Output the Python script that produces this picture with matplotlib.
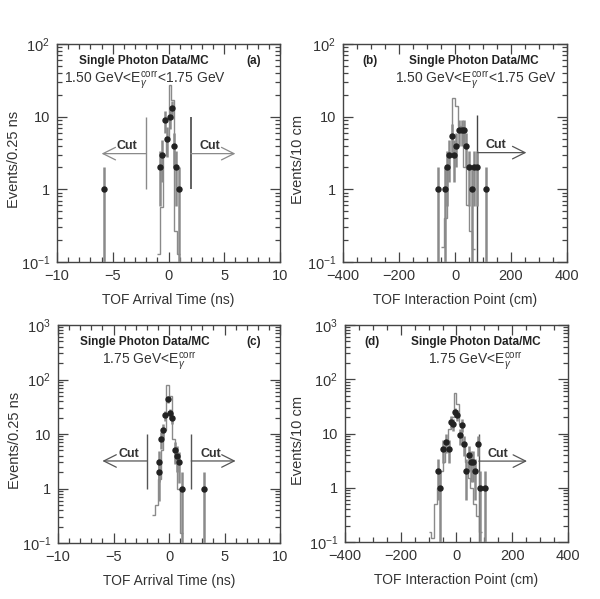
import numpy as np
import matplotlib
matplotlib.use("Agg")
import matplotlib.pyplot as plt
from matplotlib.ticker import FixedLocator, LogLocator, NullFormatter, FuncFormatter

plt.rcParams['font.family'] = ['Liberation Sans', 'DejaVu Sans']
plt.rcParams['mathtext.fontset'] = 'custom'
plt.rcParams['mathtext.rm'] = 'Liberation Sans'
plt.rcParams['mathtext.it'] = 'Liberation Sans:italic'
plt.rcParams['mathtext.bf'] = 'Liberation Sans:bold'

# ---------------- data ----------------
# (a) TOF arrival time, 1.50<E<1.75 GeV
a_x = [-5.75, -0.8, -0.6, -0.35, -0.15, 0.1, 0.3, 0.5, 0.7, 0.9]
a_y = [1, 2, 3, 9, 5, 10, 13, 4, 2, 1]
a_mc_edges = [-1.0, -0.75, -0.5, -0.25, 0.0, 0.25, 0.5, 0.75, 1.0]
a_mc = [0.13, 0.57, 3.0, 5.0, 27.0, 17.0, 0.27, 0.13]

# (b) TOF interaction point, 1.50<E<1.75 GeV
b_x = [-60, -35, -28, -20, -12, -5, 5, 15, 25, 32, 38, 50, 60, 67, 78, 110]
b_y = [1, 1, 2, 3, 5.5, 3, 4, 6.5, 6.5, 6.5, 4, 2, 1, 2, 2, 1]
b_mc_edges = [-50, -40, -30, -20, -10, 0, 10, 20, 30, 40, 50, 60, 70]
b_mc = [0.16, 0.4, 2.0, 3.0, 18.0, 14.0, 7.5, 6.5, 2.0, 0.6, 0.27, 0.15]

# (c) TOF arrival time, 1.75 GeV<E
c_x = [-0.94, -0.88, -0.7, -0.51, -0.33, -0.12, 0.09, 0.3, 0.51, 0.73, 0.94, 1.15, 3.14]
c_y = [3.1, 2, 8.2, 12, 22, 43, 24, 20, 5, 4, 3, 1, 1]
c_mc_edges = [-1.5, -1.25, -1.0, -0.75, -0.5, -0.25, 0.0, 0.25, 0.5, 0.75, 1.0, 1.25]
c_mc = [0.33, 0.5, 1.5, 5.0, 12.0, 80.0, 50.0, 8.0, 3.0, 1.0, 0.15]

# (d) TOF interaction point, 1.75 GeV<E
d_x = [-68, -60, -48, -37, -27, -21, -13, -6, 2, 11, 19, 27, 35, 44, 53, 60, 68, 76, 86, 104]
d_y = [2, 1, 5.2, 7, 5.2, 16.6, 15, 25, 22, 9.3, 14.6, 6.3, 2, 4, 3, 3, 2, 6.3, 1, 1]
d_mc_edges = [-100, -90, -80, -70, -60, -50, -40, -30, -20, -10, 0, 10, 20, 30, 40, 50, 60, 70, 80, 90]
d_mc = [0.15, 0.12, 0.5, 1.0, 2.0, 3.0, 7.0, 12.0, 20.0, 55.0, 35.0, 15.0, 6.0, 3.0, 1.5, 1.0, 0.5, 0.3, 0.15]

ylabels = ["Events/0.25 ns", "Events/10 cm", "Events/0.25 ns", "Events/10 cm"]
xlabels = ["TOF Arrival Time (ns)", "TOF Interaction Point (cm)",
           "TOF Arrival Time (ns)", "TOF Interaction Point (cm)"]
tags = ["(a)", "(b)", "(c)", "(d)"]
title = "Single Photon Data/MC"
sub_low = r"1.50 GeV<E$_{\gamma}^{\rm corr}$<1.75 GeV"
sub_high = r"1.75 GeV<E$_{\gamma}^{\rm corr}$"

fig = plt.figure(figsize=(6.0, 5.99), dpi=100)
W, H = 600.0, 599.0

def axes_px(l, t, r, b):
    return fig.add_axes([l / W, 1 - b / H, (r - l) / W, (b - t) / H])

ax_a = axes_px(57, 44, 280, 262)
ax_b = axes_px(343, 44, 567, 262)
ax_c = axes_px(58, 325, 280, 543)
ax_d = axes_px(345, 325, 568, 542)

TXT = '#333333'
GRAY = '#8a8a8a'

def yfmt(v, pos):
    if abs(v - 1) < 1e-9:
        return '1'
    if abs(v - 10) < 1e-9:
        return '10'
    e = int(round(np.log10(v)))
    return r'$10^{%d}$' % e

def style(ax, xlim, ylim, xmaj, xmin, ylab, xlab, ylx):
    ax.set_yscale('log')
    ax.set_xlim(*xlim)
    ax.set_ylim(*ylim)
    ax.xaxis.set_major_locator(FixedLocator(xmaj))
    ax.xaxis.set_minor_locator(FixedLocator(xmin))
    ax.yaxis.set_major_locator(LogLocator(base=10, numticks=10))
    ax.yaxis.set_minor_locator(LogLocator(base=10, subs=np.arange(2, 10), numticks=20))
    ax.yaxis.set_minor_formatter(NullFormatter())
    ax.yaxis.set_major_formatter(FuncFormatter(yfmt))
    ax.xaxis.set_major_formatter(FuncFormatter(lambda v, p: ('%g' % v).replace('-', '\u2212')))
    ax.tick_params(which='both', direction='in', top=True, right=True,
                   colors='#444444', labelcolor=TXT, labelsize=10.5, width=0.9)
    ax.tick_params(which='major', length=7, pad=5)
    ax.tick_params(which='minor', length=3.5)
    for s in ax.spines.values():
        s.set_color('#444444')
        s.set_linewidth(1.0)
    ax.set_ylabel(ylab, fontsize=10.5, color=TXT)
    ax.yaxis.set_label_coords(ylx, 0.47)
    ax.set_xlabel(xlab, fontsize=10, color=TXT, labelpad=7)

def draw(ax, x, y, edges, mc, halfbin):
    ax.stairs(mc, edges, color=GRAY, lw=1.0, baseline=None)
    x = np.asarray(x, float)
    y = np.asarray(y, float)
    err = np.sqrt(y)
    lo = np.minimum(err, y - 1e-4)
    ax.errorbar(x, y, yerr=[lo, err], fmt='none', ecolor=GRAY, elinewidth=1.8, capsize=0, zorder=3)
    ax.errorbar(x, y, xerr=halfbin, fmt='o', color='#222222', ms=3.6, elinewidth=1.4,
                capsize=0, zorder=4)

def cut_arrow(ax, x0, x1, y, tx, lcolor='#555555'):
    ax.annotate('', xy=(x1, y), xytext=(x0, y),
                arrowprops=dict(arrowstyle='->,head_length=0.9,head_width=0.45', lw=0.9,
                                color=lcolor, shrinkA=0, shrinkB=0))
    ax.text(tx, y * 1.04, 'Cut', fontsize=9, fontweight='bold', color=TXT,
            ha='center', va='bottom')

# (a)
style(ax_a, (-10, 10), (0.1, 100), [-10, -5, 0, 5, 10], np.arange(-10, 11, 1),
      ylabels[0], xlabels[0], -0.16)
draw(ax_a, a_x, a_y, a_mc_edges, a_mc, 0.0)
ax_a.vlines([-2], 1, 10, color=GRAY, lw=1.0)
ax_a.vlines([2], 1, 10, color='#555555', lw=1.3)
cut_arrow(ax_a, -2, -6, 3.1, -3.7, lcolor=GRAY)
cut_arrow(ax_a, 2, 6, 3.1, 3.7, lcolor=GRAY)
ax_a.text(0.10, 0.92, title, transform=ax_a.transAxes, fontsize=8.5, fontweight='bold',
          color='#222222', va='center', ha='left')
ax_a.text(0.88, 0.92, tags[0], transform=ax_a.transAxes, fontsize=8.5, fontweight='bold',
          color='#222222', va='center', ha='center')
ax_a.text(0.03, 0.835, sub_low, transform=ax_a.transAxes, fontsize=10, color=TXT,
          va='center', ha='left')

# (b)
style(ax_b, (-400, 400), (0.1, 100), [-400, -200, 0, 200, 400], np.arange(-400, 401, 50),
      ylabels[1], xlabels[1], -0.17)
draw(ax_b, b_x, b_y, b_mc_edges, b_mc, 5.0)
ax_b.vlines([80], 0.1, 10.5, color='#444444', lw=1.0)
cut_arrow(ax_b, 80, 255, 3.2, 145)
ax_b.text(0.12, 0.92, tags[1], transform=ax_b.transAxes, fontsize=8.5, fontweight='bold',
          color='#222222', va='center', ha='center')
ax_b.text(0.295, 0.92, title, transform=ax_b.transAxes, fontsize=8.5, fontweight='bold',
          color='#222222', va='center', ha='left')
ax_b.text(0.23, 0.835, sub_low, transform=ax_b.transAxes, fontsize=10, color=TXT,
          va='center', ha='left')

# (c)
style(ax_c, (-10, 10), (0.1, 1000), [-10, -5, 0, 5, 10], np.arange(-10, 11, 1),
      ylabels[2], xlabels[2], -0.16)
draw(ax_c, c_x, c_y, c_mc_edges, c_mc, 0.0)
ax_c.vlines([-2, 2], 1, 10, color='#555555', lw=1.0)
cut_arrow(ax_c, -2, -6, 3.2, -3.6)
cut_arrow(ax_c, 2, 6, 3.2, 3.8)
ax_c.text(0.10, 0.92, title, transform=ax_c.transAxes, fontsize=8.5, fontweight='bold',
          color='#222222', va='center', ha='left')
ax_c.text(0.88, 0.92, tags[2], transform=ax_c.transAxes, fontsize=8.5, fontweight='bold',
          color='#222222', va='center', ha='center')
ax_c.text(0.20, 0.835, sub_high, transform=ax_c.transAxes, fontsize=10, color=TXT,
          va='center', ha='left')

# (d)
style(ax_d, (-400, 400), (0.1, 1000), [-400, -200, 0, 200, 400], np.arange(-400, 401, 50),
      ylabels[3], xlabels[3], -0.18)
draw(ax_d, d_x, d_y, d_mc_edges, d_mc, 5.0)
ax_d.vlines([80], 0.1, 10, color='#555555', lw=1.0)
cut_arrow(ax_d, 80, 253, 3.1, 148)
ax_d.text(0.12, 0.92, tags[3], transform=ax_d.transAxes, fontsize=8.5, fontweight='bold',
          color='#222222', va='center', ha='center')
ax_d.text(0.295, 0.92, title, transform=ax_d.transAxes, fontsize=8.5, fontweight='bold',
          color='#222222', va='center', ha='left')
ax_d.text(0.37, 0.835, sub_high, transform=ax_d.transAxes, fontsize=10, color=TXT,
          va='center', ha='left')

fig.savefig('out.png', dpi=100)
